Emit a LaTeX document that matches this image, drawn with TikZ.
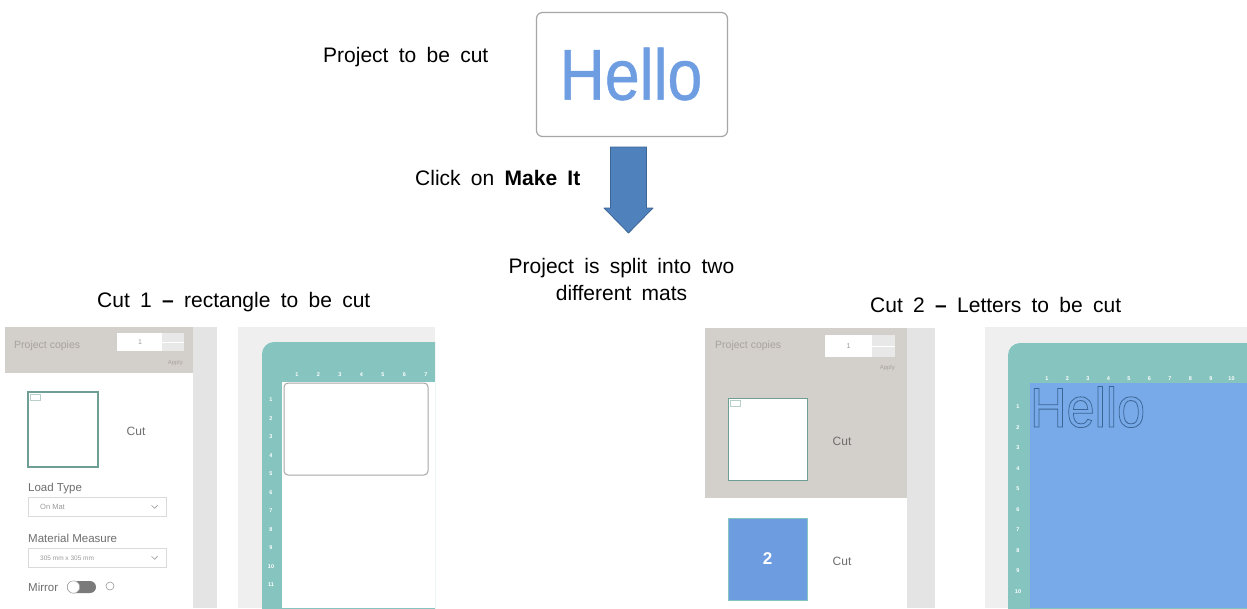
\documentclass[tikz,border=0pt]{standalone}
\usepackage{fontspec}
\setmainfont{Liberation Sans}
\usetikzlibrary{calc}
\definecolor{mat}{HTML}{86C4BF}
\definecolor{hdr}{HTML}{D3CFCB}
\definecolor{hdrtext}{HTML}{A8A29E}
\definecolor{strip}{HTML}{E4E4E4}
\definecolor{matbg}{HTML}{EFEFEF}
\definecolor{cutblue}{HTML}{78A9E8}
\definecolor{thumbblue}{HTML}{6D9CE0}
\definecolor{hello}{HTML}{6E9DE2}
\definecolor{arrowfill}{HTML}{4F81BD}
\definecolor{arrowline}{HTML}{3A6595}
\definecolor{uitext}{HTML}{9A9A9A}
\definecolor{uidark}{HTML}{6E6E6E}
\definecolor{thumb}{HTML}{6E9E94}
\definecolor{dropline}{HTML}{DADADA}
\definecolor{stepg}{HTML}{E8E8E8}
\definecolor{boxline}{HTML}{A6A6A6}
\definecolor{togg}{HTML}{7A7A7A}
\newcommand{\strokedtext}[3]{\special{pdf:literal direct #1 Tr #2 w}#3\special{pdf:literal direct 0 Tr}}
\newcommand{\lblfont}{\fontsize{21}{25}\selectfont\spaceskip=10.3pt\relax}
\begin{document}
\begin{tikzpicture}[x=1pt,y=-1pt,
  lbl/.style={inner sep=0pt, anchor=base west, font=\lblfont},
  ui/.style={inner sep=0pt, anchor=west, text=uitext, font=\fontsize{8}{9}\selectfont},
  uil/.style={inner sep=0pt, anchor=base west, text=uidark, font=\fontsize{11.5}{13}\selectfont},
  cutlbl/.style={inner sep=0pt, text=uidark, font=\fontsize{12}{13}\selectfont},
  hdrlbl/.style={inner sep=0pt, anchor=west, text=hdrtext, font=\fontsize{10.5}{12}\selectfont},
  num/.style={inner sep=0pt, text=white, font=\fontsize{5.5}{6}\selectfont\bfseries},
  thumbbox/.style={draw=thumb, line width=1.3pt, fill=white, inner sep=0pt},
  dropbox/.style={draw=dropline, line width=0.6pt, fill=white, inner sep=0pt, anchor=north west, minimum width=138pt, minimum height=19pt},
  inbox/.style={fill=white, inner sep=0pt, minimum width=47pt, minimum height=18pt, font=\fontsize{7}{8}\selectfont, text=uitext},
  stepbox/.style={fill=stepg, inner sep=0pt, minimum width=22pt, minimum height=18pt},
]
\useasboundingbox (0,0) rectangle (1247,608);
\fill[white] (0,0) rectangle (1247,608);

% ---------- top: project ----------
\node[lbl] (ptbc) at (323,62) {Project to be cut};
\node[draw=boxline, line width=1.2pt, rounded corners=6pt, fill=white,
      minimum width=191pt, minimum height=124pt, inner sep=0pt] (hellobox) at (632,74.5) {};
\node[inner sep=0pt, text=hello, font=\fontsize{72}{72}\selectfont] (hellotxt) at (631,74)
  {\scalebox{0.87}[1]{\strokedtext{2}{0.5}{Hello}}};

% ---------- arrow ----------
\node[lbl] (click) at (415,185) {Click on \textbf{Make It}};
\coordinate (atop) at (628.5,147);
\coordinate (atip) at (628.5,233);
\filldraw[fill=arrowfill, draw=arrowline, line width=0.8pt, line join=round]
  ($(atop)+(-18,0)$) -- ($(atop)+(18,0)$) -- ($(atip)+(18,-25)$) -- ($(atip)+(24.5,-25)$)
  -- (atip) -- ($(atip)+(-24.5,-25)$) -- ($(atip)+(-18,-25)$) -- cycle;

\node[lbl, anchor=base] (split1) at (621.5,273) {Project is split into two};
\node[lbl, anchor=base] (split2) at (621.5,300) {different mats};

% ---------- labels ----------
\node[lbl] (cut1) at (97,307) {Cut 1 \textbf{--} rectangle to be cut};
\node[lbl] (cut2) at (870,312) {Cut 2 \textbf{--} Letters to be cut};

% ---------- left panel ----------
\fill[hdr] (5,327) rectangle (193,373);
\fill[strip] (193,327) rectangle (217,608);
\node[hdrlbl] (pc1) at (14,346) {Project copies};
\node[inbox] (in1) at (140,342) {1};
\node[stepbox] (st1) at (173,342) {};
\draw[white, line width=0.6pt] (st1.west) -- (st1.east);
\node[ui, anchor=east, font=\fontsize{6}{7}\selectfont, text=hdrtext] (ap1) at (183,363) {Apply};

\node[thumbbox, minimum width=70pt, minimum height=75pt] (th1) at (63,429.5) {};
\draw[thumb!50, line width=0.4pt] ($(th1.north west)+(3,3)$) rectangle +(10,6);
\node[cutlbl] (cuta) at (136,431) {Cut};

\node[uil] (lt) at (28,491) {Load Type};
\node[dropbox] (dd1) at (28,497) {};
\node[ui, font=\fontsize{7.5}{8}\selectfont] (ddt1) at ($(dd1.west)+(12,0)$) {On Mat};
\draw[uitext, line width=0.6pt] ($(dd1.east)+(-15,-1.5)$) -- ++(3,3) -- ++(3,-3);

\node[uil] (mm) at (28,542) {Material Measure};
\node[dropbox] (dd2) at (28,548) {};
\node[ui, font=\fontsize{6.5}{7}\selectfont] (ddt2) at ($(dd2.west)+(12,0)$) {305 mm x 305 mm};
\draw[uitext, line width=0.6pt] ($(dd2.east)+(-15,-1.5)$) -- ++(3,3) -- ++(3,-3);

\node[uil] (mir) at (28,591) {Mirror};
\fill[togg, rounded corners=6pt] (67,581) rectangle (96,593);
\draw[fill=white, draw=gray!70, line width=0.6pt] (73.5,587) circle (6.2);
\draw[gray!80, line width=0.6pt] (110,586) circle (4);

% ---------- mat 1 ----------
\fill[matbg] (238,327) rectangle (435,608);
\begin{scope}
  \clip (238,327) rectangle (435,608);
  \fill[mat, rounded corners=12pt] (262,342) rectangle (460,640);
  \fill[white] (282,382) rectangle (435,608);
\end{scope}
\foreach \i in {1,...,7} \node[num] (mta\i) at ({297+21.5*(\i-1)},375) {\i};
\foreach \i in {1,...,11} \node[num] (mla\i) at (271,{400+18.5*(\i-1)}) {\i};
\node[draw=boxline, line width=1pt, rounded corners=4pt, fill=white, inner sep=0pt,
      minimum width=144pt, minimum height=92pt] (rect1) at (356,429) {};

% ---------- right panel ----------
\fill[hdr] (705,328) rectangle (907,498);
\fill[strip] (907,328) rectangle (935,608);
\node[hdrlbl] (pc2) at (715,346) {Project copies};
\node[inbox, minimum height=22pt] (in2) at (848.5,346) {1};
\node[stepbox, minimum width=23pt, minimum height=22pt] (st2) at (883.5,346) {};
\draw[white, line width=0.6pt] (st2.west) -- (st2.east);
\node[ui, anchor=east, font=\fontsize{6}{7}\selectfont, text=hdrtext] (ap2) at (895,368) {Apply};

\node[thumbbox, line width=1pt, minimum width=79pt, minimum height=82pt] (th2) at (767.5,439) {};
\draw[thumb!50, line width=0.4pt] ($(th2.north west)+(3,3)$) rectangle +(10,6);
\node[cutlbl] (cutb) at (842,441) {Cut};

\node[fill=thumbblue, draw=mat, line width=0.8pt, inner sep=0pt, minimum width=79pt, minimum height=82pt,
      text=white, font=\fontsize{17}{18}\selectfont\bfseries] (th3) at (767.5,559) {2};
\node[cutlbl] (cutc) at (842,561) {Cut};

% ---------- mat 2 ----------
\fill[matbg] (985,327) rectangle (1247,608);
\begin{scope}
  \clip (985,327) rectangle (1247,608);
  \fill[mat, rounded corners=12pt] (1008,343) rectangle (1270,640);
  \fill[cutblue] (1030,383) rectangle (1247,608);
\end{scope}
\foreach \i in {1,...,10} \node[num] (mtb\i) at ({1047+20.5*(\i-1)},379) {\i};
\foreach \i in {1,...,10} \node[num] (mlb\i) at (1018,{407+20.5*(\i-1)}) {\i};
\node[inner sep=0pt, anchor=base west, text=arrowline, font=\fontsize{56}{56}\selectfont] (hello2) at (1030,427)
  {\scalebox{0.9}[1]{\strokedtext{1}{0.8}{Hello}}};
\end{tikzpicture}
\end{document}
